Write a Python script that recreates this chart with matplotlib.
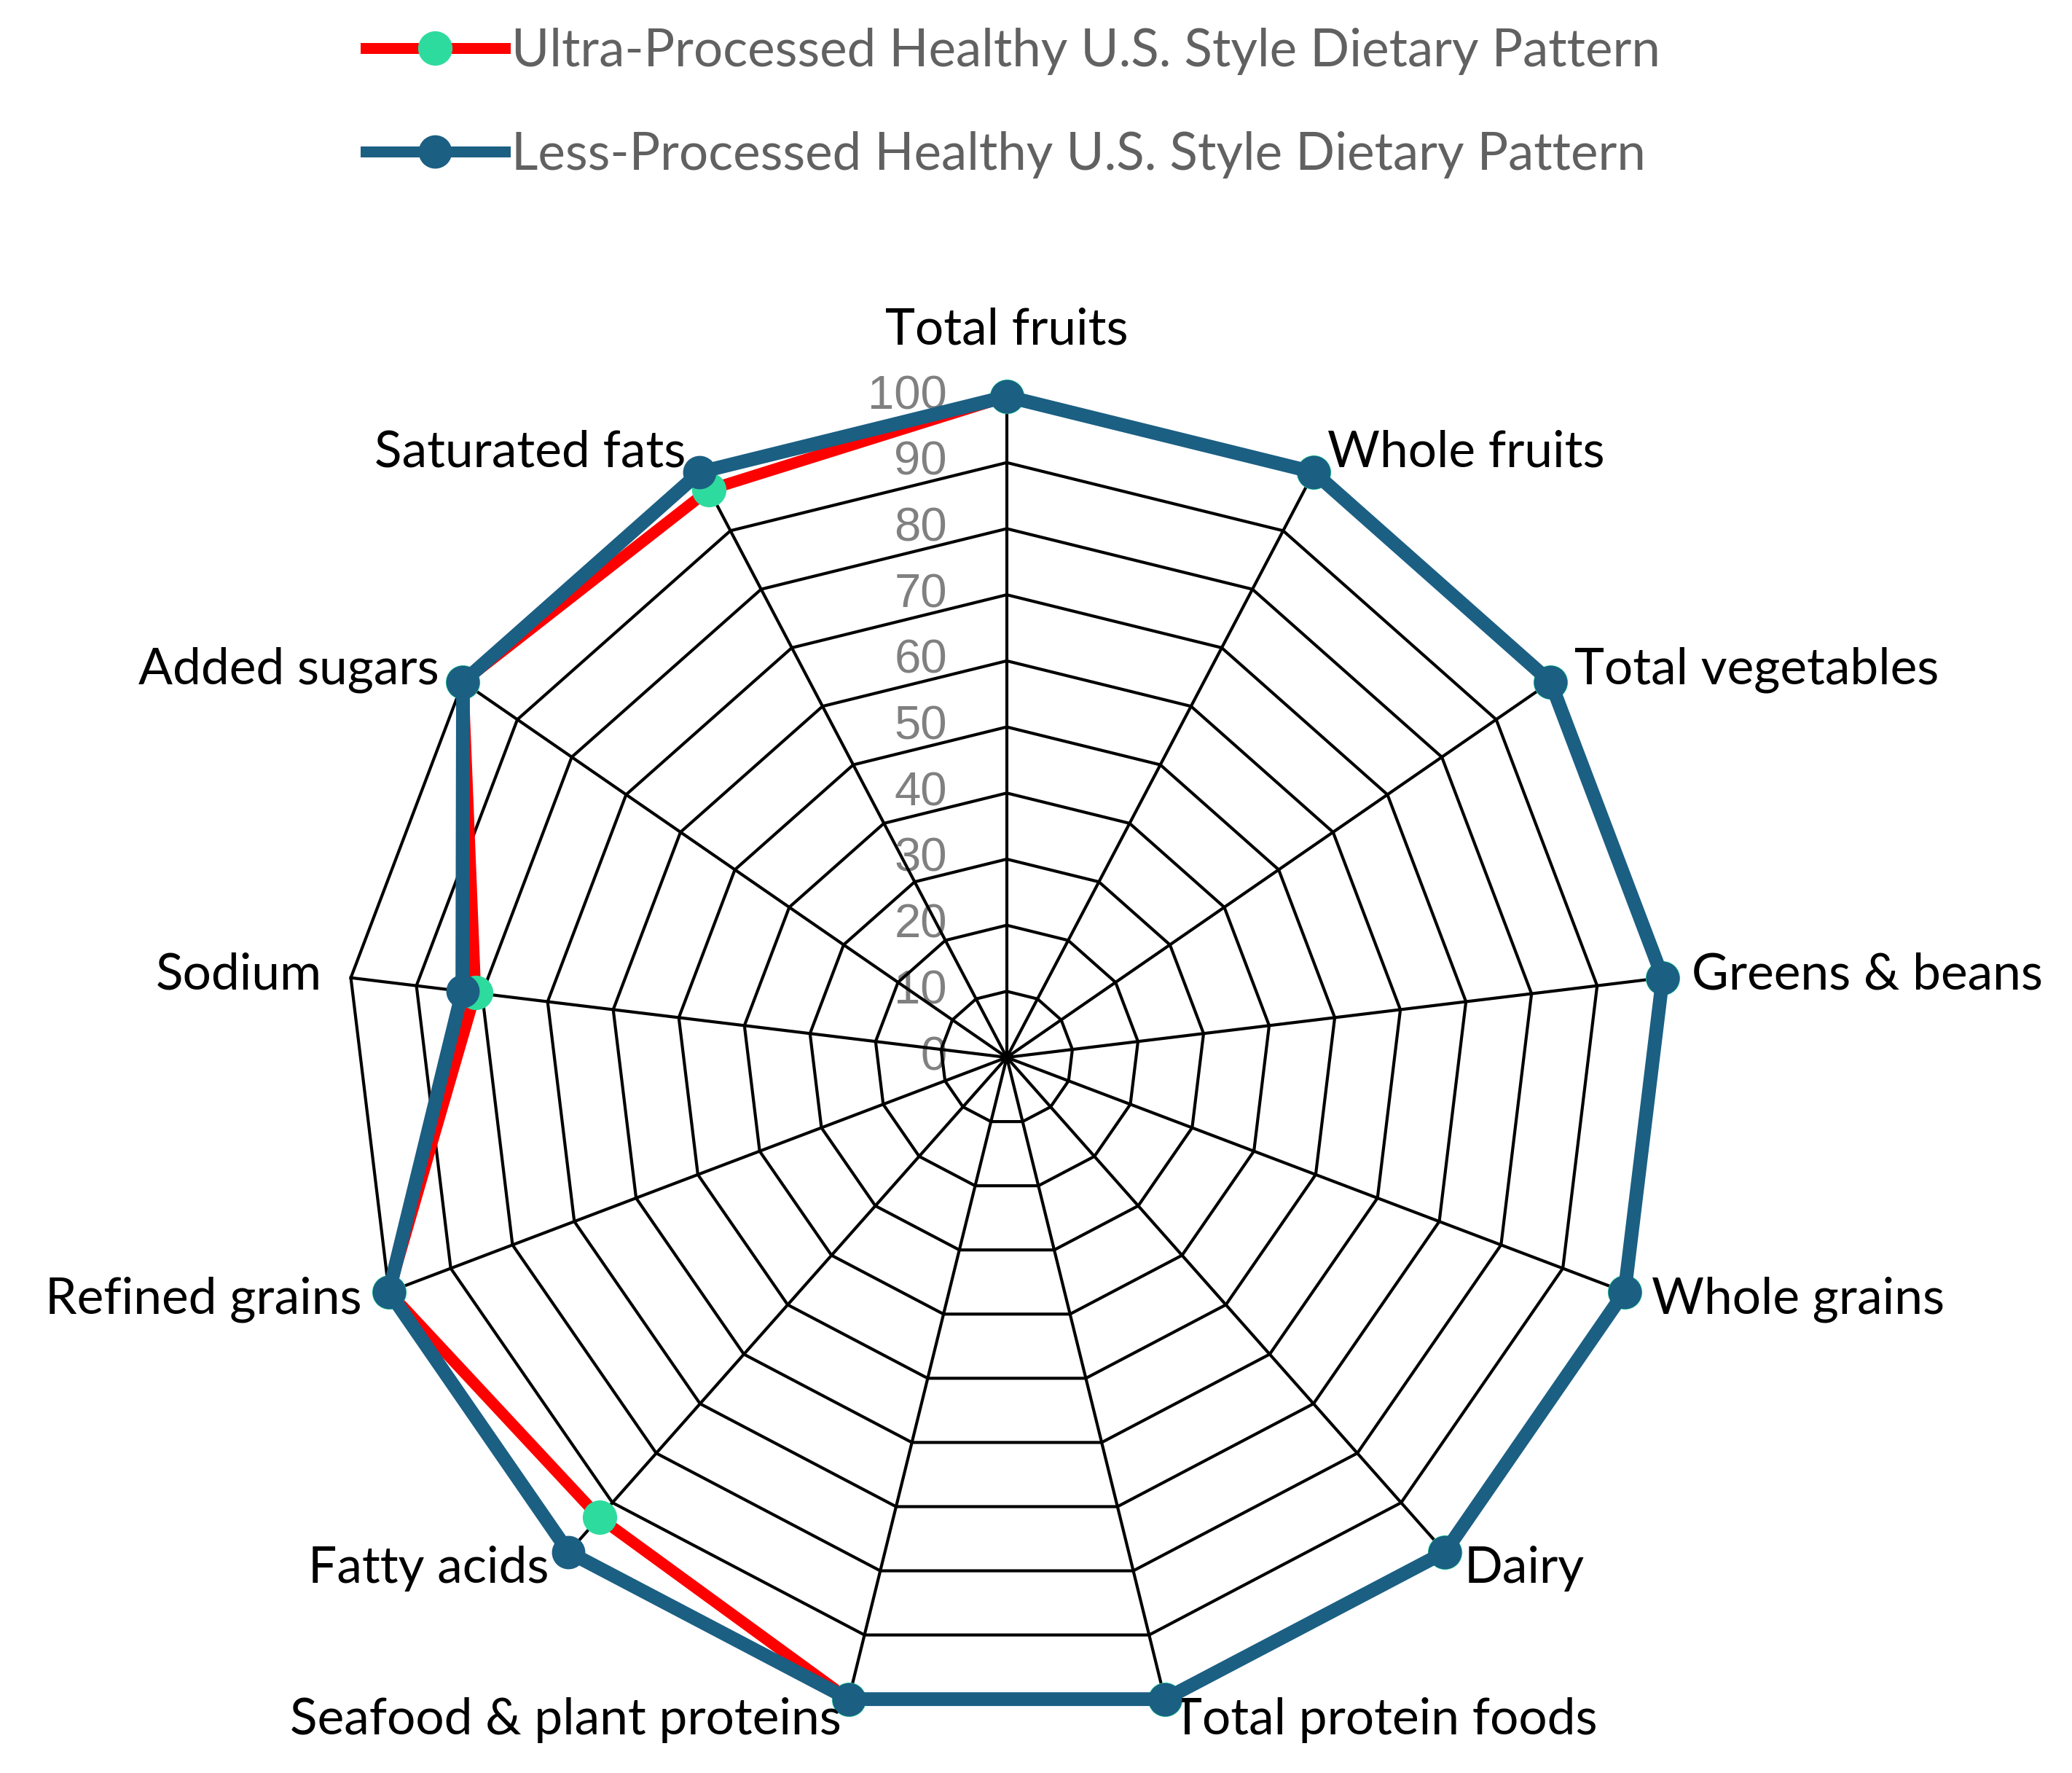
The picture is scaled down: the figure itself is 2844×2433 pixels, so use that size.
import numpy as np
import matplotlib
matplotlib.use("Agg")
import matplotlib.pyplot as plt
from matplotlib.lines import Line2D

# categories, clockwise from the top
categories = [
    "Total fruits", "Whole fruits", "Total vegetables", "Greens & beans",
    "Whole grains", "Dairy", "Total protein foods", "Seafood & plant proteins",
    "Fatty acids", "Refined grains", "Sodium", "Added sugars", "Saturated fats",
]
ultra_processed = [100, 100, 100, 100, 100, 100, 100, 100, 93, 100, 81, 100, 97]
less_processed = [100, 100, 100, 100, 100, 100, 100, 100, 100, 100, 83, 100, 100]
ring_values = [10, 20, 30, 40, 50, 60, 70, 80, 90, 100]
tick_values = [0, 10, 20, 30, 40, 50, 60, 70, 80, 90, 100]

label_font = "Lato"
tick_font = "Liberation Sans"
RED = "#FF0000"
GREEN = "#2EDB9E"
BLUE = "#1B5F83"

DPI = 200
fig = plt.figure(figsize=(2844 / DPI, 2433 / DPI), dpi=DPI)
ax = fig.add_axes([0.1670, 0.0308, 0.6378, 0.7456], projection="polar")
ax.set_theta_offset(np.pi / 2)
ax.set_theta_direction(-1)
ax.set_ylim(0, 100)
ax.grid(False)
ax.set_xticks([])
ax.set_yticks([])
ax.spines["polar"].set_visible(False)

n = len(categories)
theta = np.linspace(0, 2 * np.pi, n, endpoint=False)
theta_closed = np.append(theta, theta[0])

# polygon web
for r in ring_values:
    ax.plot(theta_closed, [r] * (n + 1), color="black", lw=1.5, zorder=1, clip_on=False)
for t in theta:
    ax.plot([t, t], [0, 100], color="black", lw=1.5, zorder=1, clip_on=False)

# radial value labels along the top spoke
px = 72 / DPI
for v in tick_values:
    ax.annotate(str(v), xy=(0, v), xytext=(-82 * px, 0), textcoords="offset points",
                ha="right", va="center", fontsize=23.5, color="#808080",
                family=tick_font, zorder=0)

# series
ax.plot(theta_closed, ultra_processed + ultra_processed[:1], color=RED, lw=5.6,
        marker="o", markersize=16, markerfacecolor=GREEN, markeredgecolor=GREEN,
        zorder=3, clip_on=False)
ax.plot(theta_closed, less_processed + less_processed[:1], color=BLUE, lw=6.8,
        marker="o", markersize=15.5, markerfacecolor=BLUE, markeredgecolor=BLUE,
        zorder=4, clip_on=False)

# category labels
for t, name in zip(theta, categories):
    sx, sy = np.sin(t), np.cos(t)
    if abs(sx) < 0.1:
        off = (0, 91 * px)
        ha, va = "center", "center"
    else:
        off = (sx * 40 * px, sy * 40 * px * 0.75)
        ha = "left" if sx > 0 else "right"
        va = "center"
    ax.annotate(name, xy=(t, 100), xytext=off, textcoords="offset points",
                ha=ha, va=va, fontsize=25, family=label_font, color="black",
                annotation_clip=False)

handles = [
    Line2D([], [], color=RED, lw=5.4, marker="o", markersize=16,
           markerfacecolor=GREEN, markeredgecolor=GREEN),
    Line2D([], [], color=BLUE, lw=5.4, marker="o", markersize=15.5,
           markerfacecolor=BLUE, markeredgecolor=BLUE),
]
labels = [
    "Ultra-Processed Healthy U.S. Style Dietary Pattern",
    "Less-Processed Healthy U.S. Style Dietary Pattern",
]
fig.legend(handles, labels, loc="upper left", bbox_to_anchor=(0.1665, 0.996),
           frameon=False, handlelength=2.7, handletextpad=0.12, labelspacing=1.09,
           prop={"family": label_font, "size": 25.5}, labelcolor="#616161",
           numpoints=1, borderaxespad=0.0)

fig.savefig("out.png", dpi=DPI, facecolor="white")
